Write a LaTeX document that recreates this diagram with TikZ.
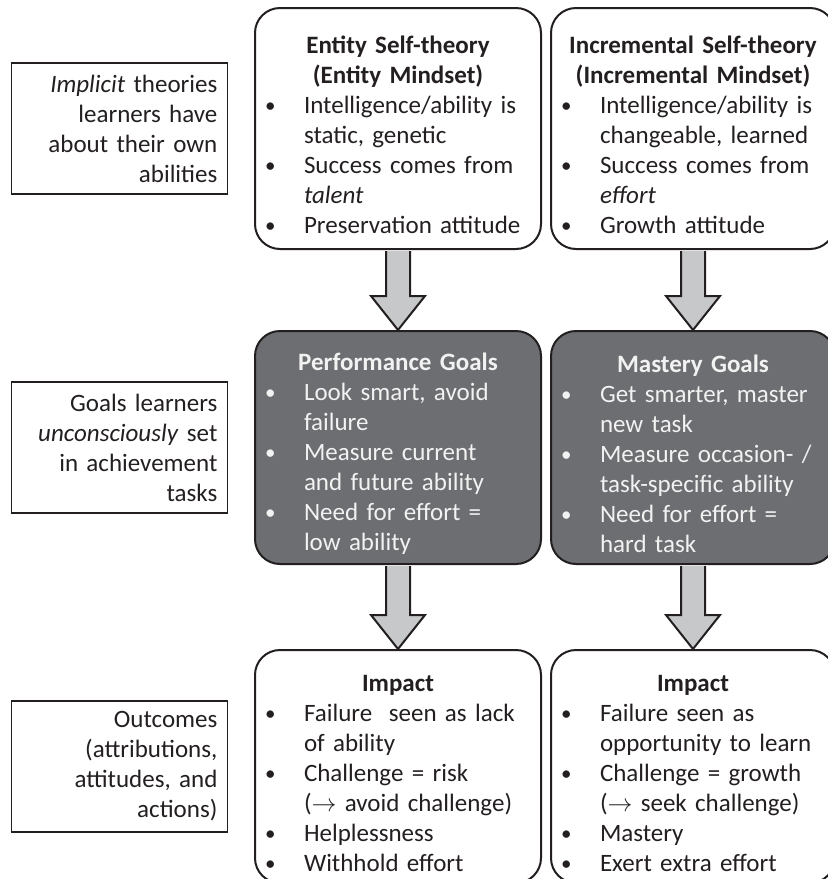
\documentclass[tikz,border=0pt]{standalone}
\usepackage{fontspec}
\setmainfont{Carlito}
\usetikzlibrary{positioning,calc}

\definecolor{ink}{HTML}{231F20}
\definecolor{goalgray}{HTML}{6D6E71}
\definecolor{arrowgray}{HTML}{C7C8CA}

% bullet point line, and its continuation line
\newcommand{\bpoint}[1]{\par\noindent\makebox[45pt][l]{\hspace{6pt}\raisebox{1pt}{\fontsize{21}{21}\selectfont\textbullet}}\mbox{#1}}
\newcommand{\bcont}[1]{\par\noindent\hspace*{45pt}\mbox{#1}}
% centred bold heading line
\newcommand{\boxtitle}[1]{\par\noindent\makebox[\linewidth][c]{\bfseries #1}}
% thick grey arrow between two boxes
\newcommand{\blockarrow}[2]{%
  \draw[blockarrow] ($(#1.south)+(-12pt,-1pt)$) -- ($(#2.north)+(-12pt,34pt)$)
    -- ($(#2.north)+(-27pt,34pt)$) -- (#2.north) -- ($(#2.north)+(27pt,34pt)$)
    -- ($(#2.north)+(12pt,34pt)$) -- ($(#1.south)+(12pt,-1pt)$);}

\tikzset{
  every node/.style={font=\fontsize{25}{30}\selectfont, text=ink},
  mindbox/.style={draw=ink, line width=2pt, rounded corners=25pt, align=left,
    inner xsep=4pt, inner ysep=4pt, minimum height=241pt},
  colA/.style={minimum width=286pt, text width=278pt},
  colB/.style={minimum width=284pt, text width=276pt},
  goalbox/.style={mindbox, fill=goalgray, text=white!95!black, minimum height=233pt},
  rowlabel/.style={draw=ink, line width=1.2pt, align=right, text width=196pt,
    inner xsep=10pt, inner ysep=4pt, minimum width=216pt, minimum height=131pt},
  blockarrow/.style={draw=ink, line width=2pt, fill=arrowgray, line join=miter},
}

\begin{document}
\begin{tikzpicture}
  \useasboundingbox (0,0) rectangle (828pt,-879pt);

  % self-theories
  \node[mindbox, colA, anchor=north west] (entity) at (254pt,-7pt) {%
    \boxtitle{Entity Self-theory}
    \boxtitle{(Entity Mindset)}
    \bpoint{Intelligence/ability is}\bcont{static, genetic}
    \bpoint{Success comes from}\bcont{\textit{talent}}
    \bpoint{Preservation attitude}};
  \node[mindbox, colB, right=8pt of entity] (incremental) {%
    \boxtitle{Incremental Self-theory}
    \boxtitle{(Incremental Mindset)}
    \bpoint{Intelligence/ability is}\bcont{changeable, learned}
    \bpoint{Success comes from}\bcont{\textit{effort}}
    \bpoint{Growth attitude}};

  % goals
  \node[goalbox, colA, below=80pt of entity] (performance) {%
    \boxtitle{Performance Goals}
    \bpoint{Look smart, avoid}\bcont{failure}
    \bpoint{Measure current}\bcont{and future ability}
    \bpoint{Need for effort =}\bcont{low ability}};
  \node[goalbox, colB, below=80pt of incremental] (mastery) {%
    \boxtitle{Mastery Goals}
    \bpoint{Get smarter, master}\bcont{new task}
    \bpoint{Measure occasion- /}\bcont{task-specific ability}
    \bpoint{Need for effort =}\bcont{hard task}};

  % impact
  \node[mindbox, colA, below=84pt of performance, minimum height=233pt] (impactA) {%
    \boxtitle{Impact}
    \bpoint{Failure~ seen as lack}\bcont{of ability}
    \bpoint{Challenge = risk}\bcont{($\rightarrow$ avoid challenge)}
    \bpoint{Helplessness}
    \bpoint{Withhold effort}};
  \node[mindbox, colB, below=84pt of mastery, minimum height=233pt] (impactB) {%
    \boxtitle{Impact}
    \bpoint{Failure seen as}\bcont{opportunity to learn}
    \bpoint{Challenge = growth}\bcont{($\rightarrow$ seek challenge)}
    \bpoint{Mastery}
    \bpoint{Exert extra effort}};

  % row labels
  \node[rowlabel, left=26pt of entity] (theories)
    {\textit{Implicit} theories\\learners have\\about their own\\abilities};
  \node[rowlabel, left=26pt of performance] (goals)
    {Goals learners\\\textit{unconsciously} set\\in achievement\\tasks};
  \node[rowlabel, left=26pt of impactA] (outcomes)
    {Outcomes\\(attributions,\\attitudes, and\\actions)};

  \blockarrow{entity}{performance}
  \blockarrow{incremental}{mastery}
  \blockarrow{performance}{impactA}
  \blockarrow{mastery}{impactB}
\end{tikzpicture}
\end{document}
